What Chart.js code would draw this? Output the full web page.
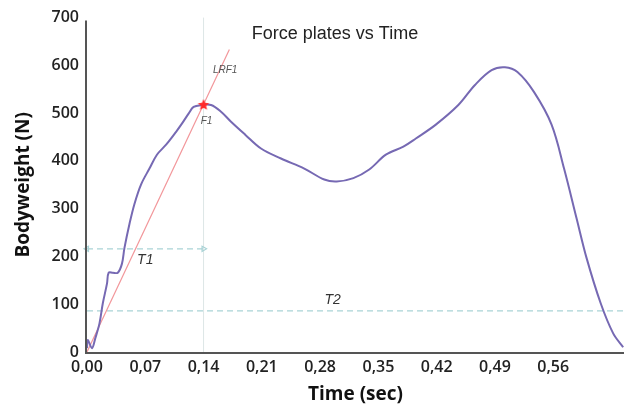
<!DOCTYPE html>
<html>
<head>
<meta charset="utf-8">
<script src="https://cdn.jsdelivr.net/npm/chart.js@4/dist/chart.umd.min.js"></script>
<style>
  html, body { margin: 0; padding: 0; background: #ffffff; }
  #wrap { width: 631px; height: 410px; }
</style>
</head>
<body>
<div id="wrap"><canvas id="forceChart" width="631" height="410"></canvas></div>
<script>
// Curva de fuerza (tiempo en s, fuerza en N)
const timeSec = [0.000, 0.001, 0.006, 0.010, 0.015, 0.019, 0.024, 0.026, 0.031, 0.037, 0.042, 0.045,
  0.051, 0.057, 0.065, 0.075, 0.084, 0.095, 0.107, 0.114, 0.122, 0.128, 0.138, 0.149, 0.161, 0.173,
  0.190, 0.209, 0.233, 0.261, 0.285, 0.300, 0.320, 0.339, 0.359, 0.380, 0.395, 0.419, 0.446, 0.466,
  0.486, 0.502, 0.517, 0.537, 0.558, 0.573, 0.588, 0.600, 0.617, 0.632, 0.644];
const bodyweight = [8, 25, 8, 29, 60, 102, 143, 166, 166, 166, 185, 218,
  268, 310, 351, 384, 413, 434, 461, 478, 499, 513, 517, 517, 503, 482,
  455, 426, 405, 384, 361, 357, 364, 382, 413, 430, 447, 476, 517, 559,
  590, 596, 586, 544, 476, 384, 280, 197, 102, 39, 10];

// Recta LRF1 y punto F1
const lrfTime = [0.0, 0.171];
const lrfForce = [0, 633];
const f1Time = 0.14;
const f1Force = 517;

// Niveles T1 y T2
const t1Force = 216;
const t2Force = 86;

const xTicks = [0.00, 0.07, 0.14, 0.21, 0.28, 0.35, 0.42, 0.49, 0.56];
const yTicks = [0, 100, 200, 300, 400, 500, 600, 700];
const xMax = 0.645;

const tealDash = '#a9d3d6';
const tickFont = { family: '"Open Sans", sans-serif', size: 16, weight: '600' };

// Estrella roja rellena para F1
function makeStar(r, color) {
    const c = document.createElement('canvas');
    c.width = c.height = r * 2 + 2;
    const g = c.getContext('2d');
    g.fillStyle = color;
    g.beginPath();
    for (let i = 0; i < 10; i++) {
        const rad = i % 2 === 0 ? r : r * 0.45;
        const a = -Math.PI / 2 + i * Math.PI / 5;
        g.lineTo(r + 1 + rad * Math.cos(a), r + 1 + rad * Math.sin(a));
    }
    g.closePath();
    g.fill();
    return c;
}

// Textos dibujados encima del gráfico
const overlayText = {
    id: 'overlayText',
    afterDatasetsDraw(chart) {
        const { ctx, scales: { x, y } } = chart;
        ctx.save();
        ctx.fillStyle = '#222';
        ctx.font = '18px "Liberation Sans", Arial, sans-serif';
        ctx.textAlign = 'center';
        ctx.textBaseline = 'middle';
        ctx.fillText('Force plates vs Time', 335, 34);

        ctx.fillStyle = '#555';
        ctx.font = 'italic 10px "Liberation Sans", Arial, sans-serif';
        ctx.fillText('LRF1', x.getPixelForValue(0.166), y.getPixelForValue(590));
        ctx.fillText('F1', x.getPixelForValue(f1Time) + 3, y.getPixelForValue(f1Force) + 16);

        ctx.fillStyle = '#333';
        ctx.font = 'italic 14px "Liberation Sans", Arial, sans-serif';
        ctx.fillText('T1', x.getPixelForValue(0.07), y.getPixelForValue(t1Force) + 11);
        ctx.fillText('T2', x.getPixelForValue(0.295), y.getPixelForValue(t2Force) - 11);
        ctx.restore();
    }
};

// Ejes dibujados a mano (línea gris gruesa)
const axisLines = {
    id: 'axisLines',
    afterDraw(chart) {
        const { ctx, chartArea: a } = chart;
        ctx.save();
        ctx.strokeStyle = '#555';
        ctx.lineWidth = 2;
        ctx.beginPath();
        ctx.moveTo(a.left - 1, a.top + 3);
        ctx.lineTo(a.left - 1, a.bottom + 1);
        ctx.lineTo(a.right, a.bottom + 1);
        ctx.stroke();
        ctx.restore();
    }
};

new Chart(document.getElementById('forceChart').getContext('2d'), {
    type: 'line',
    data: {
        datasets: [
            {
                label: 'F1 vertical',
                data: [{ x: f1Time, y: 0 }, { x: f1Time, y: 700 }],
                borderColor: '#dde6e6',
                borderWidth: 1,
                pointRadius: 0,
                order: 10
            },
            {
                label: 'T1',
                data: [{ x: 0, y: t1Force }, { x: f1Time, y: t1Force }],
                borderColor: tealDash,
                borderWidth: 1.2,
                borderDash: [6, 4],
                pointStyle: 'triangle',
                pointRotation: [-90, 90],
                pointRadius: 3,
                pointBackgroundColor: 'rgba(0,0,0,0)',
                pointBorderColor: tealDash,
                order: 5
            },
            {
                label: 'T2',
                data: [{ x: 0, y: t2Force }, { x: xMax, y: t2Force }],
                borderColor: tealDash,
                borderWidth: 1.2,
                borderDash: [6, 4],
                pointRadius: 0,
                order: 5
            },
            {
                label: 'LRF1',
                data: lrfTime.map((t, i) => ({ x: t, y: lrfForce[i] })),
                borderColor: '#f2969a',
                borderWidth: 1.2,
                pointRadius: 0,
                order: 3
            },
            {
                label: 'Bodyweight',
                data: timeSec.map((t, i) => ({ x: t, y: bodyweight[i] })),
                borderColor: '#7669b3',
                borderWidth: 2,
                pointRadius: 0,
                tension: 0.35,
                order: 2
            },
            {
                label: 'F1',
                data: [{ x: f1Time, y: f1Force }],
                pointStyle: makeStar(6, '#ff2a2a'),
                pointRadius: 6,
                showLine: false,
                order: 0
            }
        ]
    },
    options: {
        responsive: false,
        animation: false,
        clip: false,
        layout: { padding: { top: 15, right: 0, left: 0, bottom: 0 } },
        plugins: {
            legend: { display: false },
            tooltip: { enabled: false }
        },
        scales: {
            x: {
                type: 'linear',
                min: 0,
                max: xMax,
                grid: { display: false, drawTicks: false },
                border: { display: false },
                afterBuildTicks: axis => { axis.ticks = xTicks.map(v => ({ value: v })); },
                ticks: {
                    padding: 6,
                    color: '#222',
                    font: tickFont,
                    maxRotation: 0,
                    callback: v => v.toFixed(2).replace('.', ',')
                },
                title: {
                    display: true,
                    text: 'Time (sec)',
                    color: '#111',
                    font: { family: '"Open Sans", sans-serif', size: 19, weight: 'bold' },
                    padding: { top: 4 }
                },
                afterFit: axis => { axis.height = 58; }
            },
            y: {
                min: 0,
                max: 700,
                grid: { display: false, drawTicks: false },
                border: { display: false },
                afterBuildTicks: axis => { axis.ticks = yTicks.map(v => ({ value: v })); },
                ticks: {
                    padding: 8,
                    color: '#222',
                    font: tickFont
                },
                title: {
                    display: true,
                    text: 'Bodyweight (N)',
                    color: '#111',
                    font: { family: '"Open Sans", sans-serif', size: 19, weight: 'bold' },
                    padding: { top: 12, bottom: 4 }
                },
                afterFit: axis => { axis.width = 87; }
            }
        }
    },
    plugins: [overlayText, axisLines]
});
</script>
</body>
</html>
